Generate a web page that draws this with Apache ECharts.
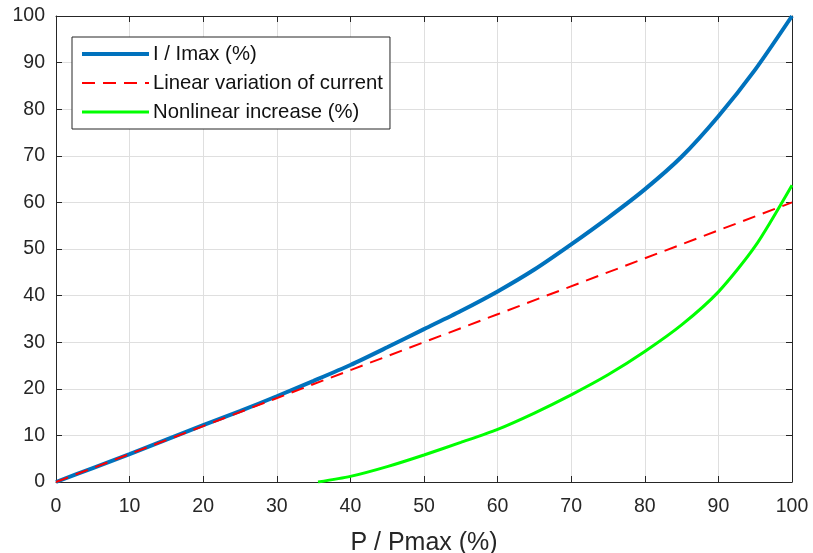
<!DOCTYPE html>
<html>
<head>
<meta charset="utf-8">
<script src="https://cdn.jsdelivr.net/npm/echarts@6/dist/echarts.min.js"></script>
<style>
  html, body { margin: 0; padding: 0; background: #fff; }
  #chart { width: 813px; height: 553px; }
</style>
</head>
<body>
<div id="chart"></div>
<script>
// values
let powerPct = [0, 5, 10, 15, 20, 25, 30, 35, 40, 45, 50, 55, 60, 65, 70, 75, 80, 85, 90, 95, 100];
let currentPct = [0, 3, 6, 9.1, 12.2, 15.2, 18.4, 21.7, 25.1, 28.9, 32.8, 36.7, 40.9, 45.6, 51, 56.7, 62.8, 69.8, 78.5, 88.5, 100];

let linearX = [0, 20, 40, 60, 80, 100];
let linearY = [0, 12, 24, 36, 48, 60];

let nonlinX = [35.6, 40, 45, 50, 55, 60, 65, 70, 75, 80, 85, 90, 95, 100];
let nonlinY = [0, 1.2, 3.3, 5.8, 8.5, 11.3, 14.8, 18.7, 23, 28, 33.7, 40.8, 50.6, 63.7];

let xTicks = [0, 10, 20, 30, 40, 50, 60, 70, 80, 90, 100];
let yTicks = [0, 10, 20, 30, 40, 50, 60, 70, 80, 90, 100];

let seriesNames = ['I / Imax (%)', 'Linear variation of current', 'Nonlinear increase (%)'];

function pairs(xs, ys) {
    return xs.map((x, i) => [x, ys[i]]);
}

let chart = echarts.init(document.getElementById('chart'), null, { renderer: 'canvas' });

let axisColor = '#262626';
let font = 'Liberation Sans, Arial, Helvetica, sans-serif';

let baseX = {
    type: 'value', min: 0, max: 100, interval: 10,
    axisLine: { show: true, onZero: false, lineStyle: { color: axisColor, width: 1 } },
    axisTick: { show: true, inside: true, length: 6, lineStyle: { color: axisColor } },
    splitLine: { show: false }
};

let option = {
    backgroundColor: '#fff',
    animation: false,
    grid: { left: 56, right: 21, top: 16, bottom: 71, outerBoundsMode: 'none', containLabel: false },
    legend: {
        data: seriesNames,
        orient: 'vertical',
        left: 72, top: 37,
        padding: [7, 7, 7, 8],
        itemWidth: 67, itemHeight: 14, itemGap: 9,
        backgroundColor: '#fff',
        borderColor: axisColor, borderWidth: 1, borderRadius: 0,
        // hide the marker, keep only the line sample
        itemStyle: { opacity: 0 },
        lineStyle: { width: 'inherit', type: 'inherit', opacity: 1 },
        textStyle: { fontFamily: font, fontSize: 20.3, color: '#111', padding: [0, 0, 0, -1] }
    },
    xAxis: [
        Object.assign({}, baseX, {
            position: 'bottom',
            name: 'P / Pmax (%)', nameLocation: 'middle', nameGap: 49,
            nameTextStyle: { fontFamily: font, fontSize: 25, color: axisColor },
            axisLabel: { fontFamily: font, fontSize: 19.5, color: axisColor, margin: 15,
                customValues: xTicks },
            splitLine: { show: true, lineStyle: { color: '#dfdfdf', width: 1 } }
        }),
        Object.assign({}, baseX, { position: 'top', axisLabel: { show: false } })
    ],
    yAxis: [
        Object.assign({}, baseX, {
            position: 'left',
            axisLabel: { fontFamily: font, fontSize: 19.5, color: axisColor, margin: 11,
                customValues: yTicks },
            splitLine: { show: true, lineStyle: { color: '#dfdfdf', width: 1 } }
        }),
        Object.assign({}, baseX, { position: 'right', axisLabel: { show: false } })
    ],
    series: [
        {
            name: seriesNames[0], type: 'line', smooth: 0.25, symbol: 'none',
            data: pairs(powerPct, currentPct),
            lineStyle: { color: '#0072BD', width: 4 },
            itemStyle: { color: '#0072BD' }, z: 3
        },
        {
            name: seriesNames[1], type: 'line', symbol: 'none',
            data: pairs(linearX, linearY),
            lineStyle: { color: '#FF0000', width: 2, type: [13, 8] },
            itemStyle: { color: '#FF0000' }, z: 4
        },
        {
            name: seriesNames[2], type: 'line', smooth: 0.25, symbol: 'none',
            data: pairs(nonlinX, nonlinY),
            lineStyle: { color: '#00FF00', width: 3 },
            itemStyle: { color: '#00FF00' }, z: 2
        }
    ]
};

chart.setOption(option);
</script>
</body>
</html>
